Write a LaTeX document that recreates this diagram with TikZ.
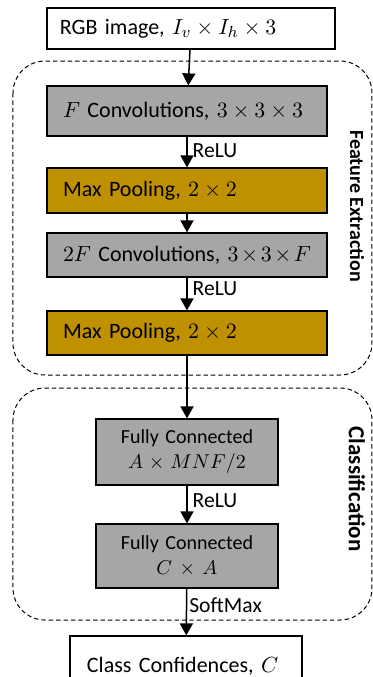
\documentclass[tikz,border=0pt]{standalone}
\usepackage{fontspec}
\setmainfont{Carlito}
\usepackage{amsmath}
\usetikzlibrary{arrows.meta, positioning}
\definecolor{convgray}{HTML}{A6A6A6}
\definecolor{poolgold}{HTML}{BF9000}
\tikzset{
  layer/.style={draw=black, line width=0.6pt, font=\fontsize{11}{13}\selectfont, inner ysep=0pt},
  convbox/.style={layer, fill=convgray, inner xsep=8pt, text width=124pt, align=left, minimum height=22.5pt},
  poolbox/.style={layer, fill=poolgold, inner xsep=8pt, text width=124pt, align=left, minimum height=22.5pt},
  fcbox/.style={layer, fill=convgray, font=\fontsize{10}{12.5}\selectfont, inner xsep=4pt, text width=83pt, align=center, minimum height=32.5pt},
  iobox/.style={layer, fill=white, align=left},
  region/.style={draw=black, line width=0.5pt, dash pattern=on 2.2pt off 1.5pt, rounded corners=16pt},
  flow/.style={-{Triangle[width=6.5pt, length=6pt]}, line width=0.75pt},
  actlbl/.style={right, inner sep=2.5pt, font=\fontsize{10.8}{12}\selectfont},
  grouplbl/.style={rotate=-90, font=\fontsize{10}{12}\selectfont\bfseries}
}
\begin{document}
\begin{tikzpicture}[x=0.5pt, y=-0.5pt]
  \useasboundingbox (0,0) rectangle (373,677);

  % Groups
  \draw[region] (13,61) rectangle (372,375);
  \draw[region] (13,388) rectangle (372,620);
  \node[grouplbl] (fexlbl) at (357,206) {Feature Extraction};
  \node[grouplbl, font=\fontsize{11.5}{12}\selectfont\bfseries] (clslbl) at (357,489) {Classification};

  % Layers
  \node[iobox, inner xsep=6.5pt, text width=131pt, minimum height=20.5pt] (rgb) at (191,28.5) {RGB image, $I_v \times I_h \times 3$};
  \node[convbox, minimum height=25pt] (conv1) at (187,111) {$F$ Convolutions, $3 \times 3 \times 3$};
  \node[poolbox] (pool1) at (187,190.5) {Max Pooling, $2 \times 2$};
  \node[convbox, minimum height=22pt] (conv2) at (187,255) {$2F$ Convolutions, $3 \times 3 \times F$};
  \node[poolbox, minimum height=22pt] (pool2) at (187,333) {Max Pooling, $2 \times 2$};
  \node[fcbox, minimum height=33pt] (fc1) at (187,452) {Fully Connected\\$A \times MNF/2$};
  \node[fcbox, minimum height=32pt] (fc2) at (187,556) {Fully Connected\\$C \times A$};
  \node[iobox, inner xsep=8.5pt, text width=99pt, minimum height=30pt] (out) at (186,666) {Class Confidences, $C$};

  % Connections
  \draw[flow] (rgb) -- (conv1);
  \draw[flow] (conv1) -- node[actlbl, pos=0.47] {ReLU} (pool1);
  \draw[flow] (pool1) -- (conv2);
  \draw[flow] (conv2) -- node[actlbl, pos=0.35] {ReLU} (pool2);
  \draw[flow] (pool2) -- (fc1);
  \draw[flow] (fc1) -- node[actlbl, pos=0.39] {ReLU} (fc2);
  \draw[flow] (fc2) -- node[actlbl, pos=0.36, inner sep=1pt] {SoftMax} (out);
\end{tikzpicture}
\end{document}
